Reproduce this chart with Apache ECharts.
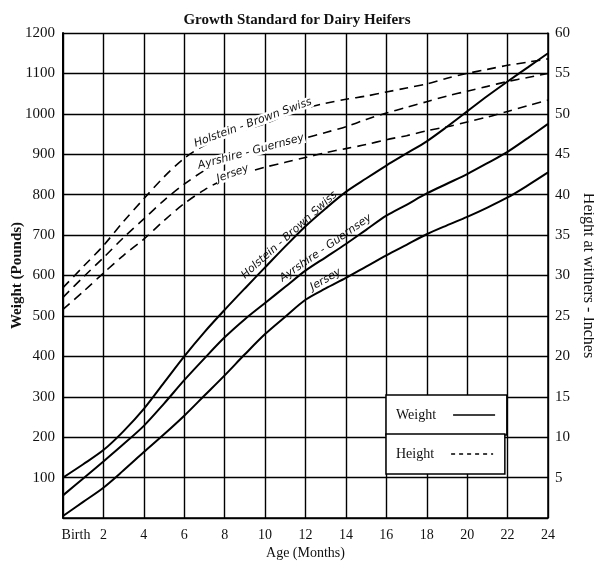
<!DOCTYPE html>
<html><head><meta charset="utf-8">
<script src="https://cdn.jsdelivr.net/npm/echarts@6/dist/echarts.min.js"></script>
<style>html,body{margin:0;padding:0;background:#fff}#c{width:594px;height:561px}</style>
</head><body><div id="c"></div>
<script>
// ---- data ----
const months = [0,1,2,3,4,5,6,7,8,9,10,11,12,13,14,15,16,17,18,19,20,21,22,23,24];
const xTickLabels = {0: 'Birth'};
const breeds = ['Holstein - Brown Swiss', 'Ayrshire - Guernsey', 'Jersey'];

// Weight (pounds), left axis
const weightHolstein = [100,133,168,215,270,335,400,460,515,568,620,672,722,766,807,840,872,902,932,968,1006,1044,1080,1115,1150];
const weightAyrshire = [56,98,140,183,228,283,341,395,447,492,532,572,612,645,678,713,748,775,803,827,851,878,906,940,975];
const weightJersey   = [5,40,75,118,163,207,253,303,353,405,455,498,540,568,594,622,650,676,702,724,745,768,793,823,855];

// Height at withers (inches), right axis
const heightHolstein = [28.5,31.1,33.7,36.7,39.5,42.2,44.5,46.1,47.2,48.0,48.8,49.8,50.7,51.3,51.8,52.2,52.7,53.2,53.7,54.4,55.0,55.5,56.0,56.4,56.8];
const heightAyrshire = [27.3,29.8,32.2,34.7,37.0,39.3,41.3,43.0,44.3,45.1,45.7,46.3,47.0,47.7,48.4,49.3,50.1,50.8,51.5,52.2,52.8,53.4,54.0,54.5,55.0];
const heightJersey   = [25.8,28.0,30.3,32.5,34.5,36.8,38.9,40.6,41.9,42.7,43.4,44.0,44.6,45.2,45.7,46.2,46.8,47.3,47.9,48.4,49.0,49.6,50.3,51.0,51.7];

// handwritten annotation anchors [month, value, angle]
const weightNotes = [[11.2,700,42],[13.0,668,35],[13.0,590,30]];
const heightNotes = [[9.4,48.9,20],[9.3,45.3,15],[8.4,42.6,20]];

const SERIF = '"Liberation Serif", "Times New Roman", serif';
const HAND = '"DejaVu Sans", sans-serif';

function pairs(vals){ return months.map((m,i)=>[m, vals[i]]); }

function note(n, text, bg){
  return {
    symbol: 'circle', symbolSize: 1, silent: true,
    itemStyle: {color: 'rgba(0,0,0,0)'},
    data: [{coord: [n[0], n[1]], value: 0,
      label: {show: true, position: 'inside', formatter: text, rotate: n[2],
        color: '#111', fontFamily: HAND, fontStyle: 'italic', fontSize: 11,
        backgroundColor: bg, padding: [0,1]}}]
  };
}

const weights = [weightHolstein, weightAyrshire, weightJersey];
const heights = [heightHolstein, heightAyrshire, heightJersey];
const series = [];
weights.forEach((w,i)=>{
  series.push({name: 'Weight', type: 'line', yAxisIndex: 0, data: pairs(w),
    smooth: 0.3, symbol: 'none', lineStyle: {color: '#000', width: 2, type: 'solid'},
    itemStyle: {color: '#000'}, z: 3,
    markPoint: note(weightNotes[i], breeds[i], 'transparent')});
});
heights.forEach((h,i)=>{
  series.push({name: 'Height', type: 'line', yAxisIndex: 1, data: pairs(h),
    smooth: 0.3, symbol: 'none', lineStyle: {color: '#000', width: 1.6, type: [9,6]},
    itemStyle: {color: '#000'}, z: 3,
    markPoint: note(heightNotes[i], breeds[i], '#fff')});
});

function legendBox(name, top, dash){
  return {
    data: [name], left: 386, top: top, orient: 'horizontal', align: 'right',
    padding: [13, 11, 13, 10], itemWidth: 42, itemHeight: 14,
    backgroundColor: '#fff', borderColor: '#000', borderWidth: 1.5, borderRadius: 0,
    selectedMode: false,
    itemStyle: {opacity: 0},
    lineStyle: {color: '#000', width: 1.5, type: dash, opacity: 1},
    textStyle: {fontFamily: SERIF, fontSize: 14, color: '#111', padding: [0, 12, 0, 0]}
  };
}

const chart = echarts.init(document.getElementById('c'), null, {renderer: 'canvas'});
chart.setOption({
  backgroundColor: '#fff',
  animation: false,
  title: {text: 'Growth Standard for Dairy Heifers', left: 'center', top: 8,
    textStyle: {fontFamily: SERIF, fontSize: 15, fontWeight: 'bold', color: '#111'}},
  legend: [legendBox('Weight', 395, 'solid'), legendBox('Height', 434, [4,4])],
  grid: {left: 63, right: 46, top: 33, bottom: 43, containLabel: false, outerBoundsMode: 'none'},
  xAxis: {type: 'value', min: 0, max: 24, interval: 2,
    name: 'Age (Months)', nameLocation: 'middle', nameGap: 28, nameMoveOverlap: false,
    nameTextStyle: {fontFamily: SERIF, fontSize: 14, color: '#111'},
    axisLine: {show: true, lineStyle: {color: '#000', width: 1.5}},
    axisTick: {show: false},
    axisLabel: {margin: 10, fontFamily: SERIF, fontSize: 14, color: '#111',
      formatter: v => xTickLabels[v] !== undefined ? '{b|' + xTickLabels[v] + '}' : String(v),
      rich: {b: {fontFamily: SERIF, fontSize: 14, color: '#111', padding: [0,0,0,26]}}},
    splitLine: {show: true, lineStyle: {color: '#000', width: 1.4}}},
  yAxis: [
    {type: 'value', min: 0, max: 1200, interval: 100, position: 'left',
      name: 'Weight (Pounds)', nameLocation: 'middle', nameGap: 38, nameRotate: 90, nameMoveOverlap: false,
      nameTextStyle: {fontFamily: SERIF, fontSize: 15, fontWeight: 'bold', color: '#111'},
      axisLine: {show: true, lineStyle: {color: '#000', width: 2}},
      axisTick: {show: false},
      axisLabel: {margin: 8, fontFamily: SERIF, fontSize: 15, color: '#111',
        formatter: v => v === 0 ? '' : String(v)},
      splitLine: {show: true, lineStyle: {color: '#000', width: 1.4}}},
    {type: 'value', min: 0, max: 60, interval: 5, position: 'right',
      name: 'Height at withers - Inches', nameLocation: 'middle', nameGap: 32, nameRotate: -90, nameMoveOverlap: false,
      nameTextStyle: {fontFamily: SERIF, fontSize: 16, color: '#111'},
      axisLine: {show: true, lineStyle: {color: '#000', width: 1.5}},
      axisTick: {show: false},
      axisLabel: {margin: 7, fontFamily: SERIF, fontSize: 15, color: '#111',
        formatter: v => v === 0 ? '' : String(v)},
      splitLine: {show: false}}
  ],
  series: series
});
</script></body></html>
